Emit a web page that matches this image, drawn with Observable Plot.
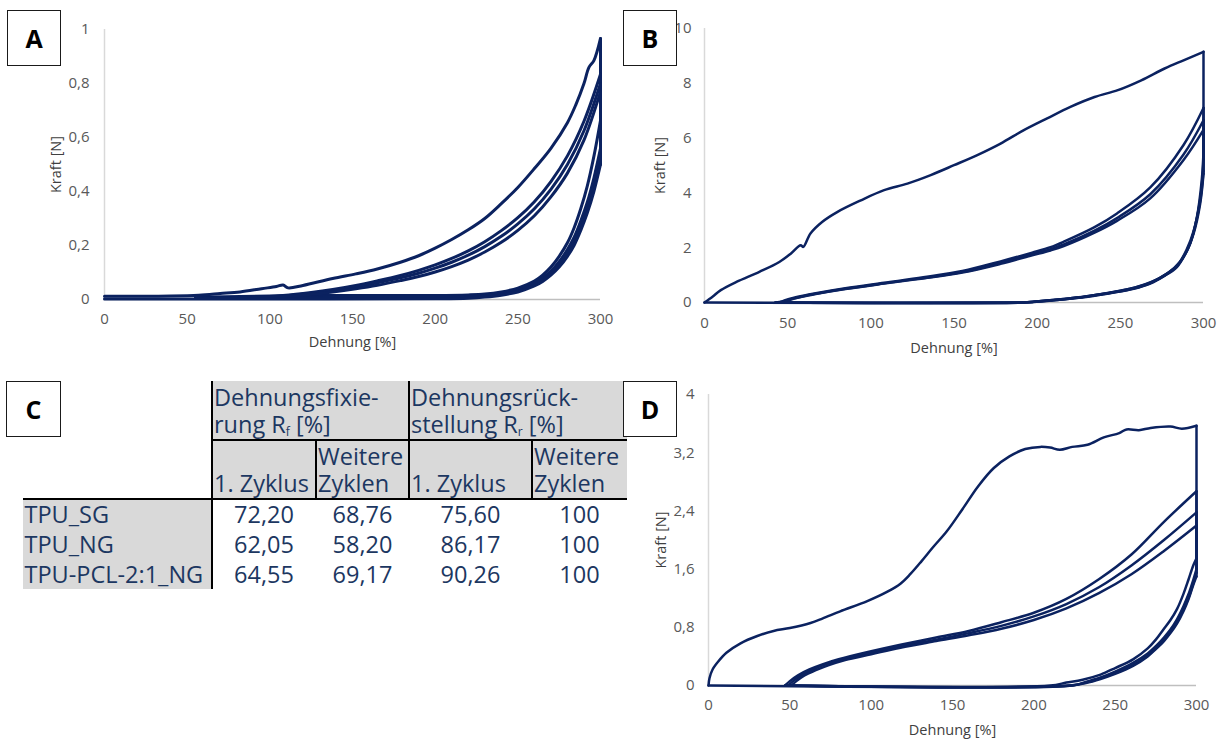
<!DOCTYPE html>
<html>
<head>
<meta charset="utf-8">
<script src="https://cdn.jsdelivr.net/npm/d3@7"></script>
<script src="https://cdn.jsdelivr.net/npm/@observablehq/plot@0.6"></script>
<style>
  html, body { margin:0; padding:0; background:#fff; }
  body { width:1222px; height:740px; position:relative; overflow:hidden; font-family:"Open Sans", sans-serif; }
  .wrap { position:absolute; }
  .box { position:absolute; box-sizing:border-box; border:1.6px solid #1a1a1a; background:#fff;
         display:flex; align-items:center; justify-content:center; font-weight:700; font-size:25px; color:#000; z-index:5; }
  .tc { position:absolute; box-sizing:border-box; color:#1c3761; font-size:23.5px; white-space:nowrap; }
  .tl { position:absolute; background:#000; z-index:2; }
  sub { font-size:12px; vertical-align:-3px; line-height:0; }
</style>
</head>
<body>
<div id="chartA" class="wrap" style="left:0;top:0"></div>
<div id="chartB" class="wrap" style="left:610px;top:0"></div>
<div id="table" class="wrap" style="left:0;top:0"></div>
<div id="chartD" class="wrap" style="left:610px;top:370px"></div>
<div class="box" style="left:7px;top:10px;width:54px;height:56px">A</div>
<div class="box" style="left:623px;top:10px;width:54px;height:56px">B</div>
<div class="box" style="left:6px;top:381px;width:55px;height:56px">C</div>
<div class="box" style="left:623px;top:381px;width:54px;height:56px">D</div>
<script>
// ---------- data: [Dehnung %, Kraft N] ----------
const xTicks = [0, 50, 100, 150, 200, 250, 300];

// Chart A
const aTicksY = [0, 0.2, 0.4, 0.6, 0.8, 1];
const aLoad1 = [[0,0.012],[20,0.012],[40,0.013],[57,0.016],[70,0.022],[82,0.028],[95,0.04],[104,0.048],[108,0.054],[111,0.043],[120,0.052],[138,0.078],[152,0.095],[165,0.113],[179,0.138],[190,0.162],[200,0.19],[210,0.222],[220,0.258],[230,0.3],[240,0.355],[250,0.415],[260,0.485],[270,0.56],[280,0.655],[285,0.72],[290,0.8],[293,0.86],[296,0.885],[300,0.967]];
const aLoad2 = [[55,0.004],[70,0.005],[85,0.007],[108,0.015],[125,0.026],[138,0.037],[152,0.052],[165,0.069],[179,0.089],[190,0.108],[200,0.128],[210,0.152],[220,0.18],[230,0.214],[240,0.255],[250,0.303],[260,0.362],[270,0.437],[280,0.532],[290,0.66],[300,0.834]];
const aLoad3 = [[58,0.004],[72,0.005],[88,0.007],[110,0.014],[125,0.023],[138,0.033],[152,0.047],[165,0.062],[179,0.08],[190,0.097],[200,0.116],[210,0.138],[220,0.164],[230,0.196],[240,0.234],[250,0.28],[260,0.336],[270,0.408],[280,0.5],[290,0.625],[300,0.8]];
const aLoad4 = [[60,0.004],[75,0.005],[90,0.007],[112,0.012],[125,0.019],[138,0.028],[152,0.04],[165,0.053],[179,0.07],[190,0.085],[200,0.102],[210,0.122],[220,0.146],[230,0.176],[240,0.212],[250,0.256],[260,0.31],[270,0.38],[280,0.468],[290,0.59],[300,0.77]];
const aUnload1 = [[300,0.663],[296,0.53],[292,0.42],[288,0.335],[284,0.265],[280,0.21],[275,0.16],[270,0.12],[265,0.09],[260,0.068],[250,0.042],[240,0.028],[230,0.02],[220,0.017],[200,0.015],[150,0.015],[100,0.013],[55,0.008]];
const aUnload2 = [[300,0.56],[296,0.45],[292,0.36],[288,0.29],[284,0.23],[280,0.185],[275,0.14],[270,0.105],[265,0.08],[260,0.06],[250,0.035],[240,0.022],[230,0.015],[220,0.012],[200,0.01],[150,0.009],[100,0.008],[58,0.005]];
const aUnload3 = [[300,0.53],[296,0.425],[292,0.34],[288,0.27],[284,0.215],[280,0.172],[275,0.13],[270,0.097],[265,0.073],[260,0.055],[250,0.031],[240,0.019],[230,0.012],[220,0.008],[200,0.006],[150,0.006],[100,0.005],[60,0.004]];
const aUnload4 = [[300,0.5],[296,0.4],[292,0.32],[288,0.255],[284,0.2],[280,0.16],[275,0.12],[270,0.09],[265,0.067],[260,0.05],[250,0.028],[240,0.016],[230,0.009],[220,0.005],[200,0.003],[100,0.002],[0,0.002]];

// Chart B
const bTicksY = [0, 2, 4, 6, 8, 10];
const bLoad1 = [[0,0],[5,0.22],[9.8,0.45],[19.2,0.75],[33,1.12],[45,1.48],[52,1.79],[57.8,2.09],[59.4,2.03],[63.7,2.52],[70.7,2.94],[80,3.31],[94,3.73],[108,4.1],[122,4.34],[136,4.65],[150,5.01],[164,5.38],[178,5.8],[192,6.29],[206,6.72],[220,7.14],[234.5,7.5],[248.5,7.75],[262.6,8.11],[276.6,8.54],[288,8.84],[300,9.15]];
const bLoad2 = [[42.6,0],[47,0.05],[52,0.15],[60,0.26],[66,0.33],[84.7,0.52],[108,0.72],[131.5,0.92],[155,1.15],[178,1.5],[197,1.82],[208,2.02],[216,2.22],[234.5,2.75],[248,3.25],[268,4.2],[288,5.75],[300,7.1]];
const bLoad3 = [[44,0],[48,0.05],[53,0.14],[60,0.24],[66,0.31],[84.7,0.5],[108,0.7],[131.5,0.89],[155,1.11],[178,1.44],[197,1.76],[208,1.95],[216,2.12],[234.5,2.62],[248,3.08],[268,3.95],[288,5.4],[300,6.65]];
const bLoad4 = [[45,0],[49,0.05],[54,0.14],[60,0.23],[66,0.3],[84.7,0.49],[108,0.69],[131.5,0.88],[155,1.09],[178,1.41],[197,1.72],[208,1.9],[216,2.06],[234.5,2.55],[248,2.98],[268,3.8],[288,5.2],[300,6.3]];
const bUnload1 = [[300,4.7],[298,3.6],[294,2.5],[290,1.9],[284,1.29],[276,0.95],[268,0.69],[258,0.5],[248,0.38],[238,0.28],[228,0.19],[218,0.13],[208,0.07],[198,0.02],[190,0],[42.6,0]];
const bUnload2 = [[300,5.2],[298.5,4.0],[295,2.8],[291,2.0],[285,1.4],[277,1.0],[268,0.72],[258,0.53],[248,0.4],[238,0.3],[228,0.21],[218,0.14],[208,0.08],[198,0.03],[192,0],[44,0]];
const bUnload3 = [[300,5.5],[299,4.5],[296,3.1],[292,2.15],[286,1.5],[278,1.05],[269,0.76],[259,0.55],[249,0.42],[239,0.31],[229,0.22],[219,0.15],[209,0.09],[199,0.035],[193,0],[45,0]];
const bUnload4 = [[300,4.8],[298,3.7],[294,2.6],[290,1.95],[284,1.33],[276,0.98],[268,0.71],[258,0.51],[248,0.39],[238,0.29],[228,0.2],[218,0.13],[208,0.075],[198,0.025],[191,0],[0,0]];

// Chart D
const dTicksY = [0, 0.8, 1.6, 2.4, 3.2, 4];
const dLoad1 = [[0,0],[0.6,0.1],[2.5,0.22],[6,0.33],[11,0.45],[19.7,0.58],[30,0.68],[40,0.75],[50,0.79],[62.7,0.86],[70,0.92],[81,1.02],[97.6,1.16],[110,1.29],[118,1.4],[124,1.53],[131,1.71],[138,1.9],[146.5,2.12],[156,2.42],[165.8,2.74],[175.4,2.99],[185,3.15],[194.7,3.25],[204,3.28],[210,3.27],[216,3.24],[223.6,3.28],[233,3.31],[243,3.41],[252.5,3.47],[257,3.52],[264.6,3.51],[271.8,3.54],[283.9,3.56],[291,3.53],[300,3.57]];
const dLoad2 = [[47,0],[50,0.06],[55,0.14],[62,0.22],[70,0.29],[80,0.36],[100,0.47],[118,0.56],[140,0.66],[160,0.75],[180,0.87],[200,1.0],[220,1.19],[240,1.46],[260,1.8],[280,2.25],[300,2.67]];
const dLoad3 = [[49,0],[52,0.06],[57,0.14],[64,0.22],[72,0.29],[82,0.36],[100,0.45],[118,0.54],[140,0.63],[160,0.72],[180,0.82],[200,0.95],[220,1.12],[240,1.35],[260,1.65],[280,2.0],[300,2.38]];
const dLoad4 = [[51,0],[54,0.06],[59,0.14],[66,0.21],[74,0.28],[84,0.35],[100,0.43],[118,0.52],[140,0.61],[160,0.69],[180,0.78],[200,0.9],[220,1.06],[240,1.27],[260,1.53],[280,1.85],[300,2.2]];
const dUnload1 = [[300,1.75],[298,1.65],[295,1.45],[292,1.26],[288,1.05],[284,0.9],[280,0.78],[275,0.63],[270,0.51],[261,0.36],[250,0.24],[241,0.15],[230,0.08],[220,0.04],[210,0],[47,0]];
const dUnload2 = [[300,1.55],[298,1.4],[295,1.2],[292,1.05],[288,0.88],[284,0.74],[280,0.63],[275,0.51],[270,0.41],[261,0.28],[250,0.17],[241,0.1],[232,0.04],[223,0],[49,0]];
const dUnload3 = [[300,1.6],[298,1.45],[295,1.25],[292,1.09],[288,0.91],[284,0.77],[280,0.66],[275,0.54],[270,0.44],[261,0.31],[250,0.19],[241,0.11],[232,0.05],[224,0],[51,0]];
const dUnload4 = [[300,1.5],[298,1.38],[295,1.18],[292,1.02],[288,0.85],[284,0.72],[280,0.61],[275,0.5],[270,0.4],[261,0.27],[250,0.16],[241,0.09],[232,0.035],[222,0],[0,0]];

// Table C
const colHeads = ["Dehnungsfixie-<br>rung R<sub>f</sub> [%]", "Dehnungsrück-<br>stellung R<sub>r</sub> [%]"];
const subHeads = ["<br>1. Zyklus", "Weitere<br>Zyklen", "<br>1. Zyklus", "Weitere<br>Zyklen"];
const rowLabels = ["TPU_SG", "TPU_NG", "TPU-PCL-2:1_NG"];
const rf1 = [72.20, 62.05, 64.55];
const rfN = [68.76, 58.20, 69.17];
const rr1 = [75.60, 86.17, 90.26];
const rrN = [100, 100, 100];

// ---------- helpers ----------
const navy = "#0b2260";
const fmt = d => String(d).replace(".", ",");
function series(name, pts) { return pts.map(([x, y]) => ({x, y, s: name})); }
function cycles(loads, unloads) {
  const rows = [];
  loads.forEach((ld, i) => {
    const ul = unloads[i];
    rows.push(...series("load" + i, ld));
    rows.push(...series("drop" + i, [ld[ld.length - 1], ul[0]]));
    rows.push(...series("unload" + i, ul));
  });
  return rows;
}

function chart(o) {
  return Plot.plot({
    width: o.w, height: o.h,
    marginLeft: o.ml, marginRight: o.mr, marginTop: o.mt, marginBottom: o.mb,
    style: {background: "transparent", fontFamily: "'Open Sans', sans-serif", color: "#595959", overflow: "visible"},
    x: {domain: [0, 300]},
    y: {domain: [0, o.yMax]},
    marks: [
      Plot.ruleX([0], {stroke: "#d9d9d9", strokeWidth: 1.5}),
      Plot.ruleY([0], {stroke: "#bfbfbf", strokeWidth: 1.5}),
      Plot.line(o.data, {x: "x", y: "y", z: "s", stroke: navy, strokeWidth: o.sw, curve: "catmull-rom", strokeLinejoin: "round"}),
      Plot.axisX({ticks: xTicks, tickSize: 0, tickPadding: o.xPad, label: null, fontSize: 15, fill: "#595959"}),
      Plot.axisY({ticks: o.yTicks, tickSize: 0, tickPadding: o.yPad, label: null, tickFormat: fmt, fontSize: 15, fill: "#595959"}),
      Plot.text(["Dehnung [%]"], {text: d => d, frameAnchor: "bottom", dy: o.xDy, lineAnchor: "middle", fontSize: 14.5, fill: "#404040"}),
      Plot.text(["Kraft [N]"], {text: d => d, frameAnchor: "left", dx: o.yDx, rotate: -90, lineAnchor: "middle", textAnchor: "middle", fontSize: 14.5, fill: "#404040"})
    ]
  });
}

document.getElementById("chartA").append(chart({
  data: cycles([aLoad1, aLoad2, aLoad3, aLoad4], [aUnload1, aUnload2, aUnload3, aUnload4]),
  yMax: 1, yTicks: aTicksY, w: 620, h: 360, ml: 104, mr: 20, mt: 29, mb: 61,
  sw: 3, xPad: 14, yPad: 15, xDy: 43, yDx: -48
}));
document.getElementById("chartB").append(chart({
  data: cycles([bLoad1, bLoad2, bLoad3, bLoad4], [bUnload1, bUnload2, bUnload3, bUnload4]),
  yMax: 10, yTicks: bTicksY, w: 612, h: 360, ml: 94, mr: 19, mt: 28, mb: 58,
  sw: 2.5, xPad: 15, yPad: 13, xDy: 45.5, yDx: -44.5
}));
document.getElementById("chartD").append(chart({
  data: cycles([dLoad1, dLoad2, dLoad3, dLoad4], [dUnload1, dUnload2, dUnload3, dUnload4]),
  yMax: 4, yTicks: dTicksY, w: 612, h: 370, ml: 98, mr: 26, mt: 24, mb: 55,
  sw: 2.5, xPad: 14, yPad: 14, xDy: 45, yDx: -47.5
}));

// ---------- table C ----------
const T = document.getElementById("table");
const colX = [23, 212, 316, 409, 532, 627];
const rowY = [381, 440, 499, 529, 559, 589];
const grey = "#d9d9d9";
const numFmt = v => Number.isInteger(v) ? String(v) : v.toFixed(2).replace(".", ",");
function cell(x, y, w, h, bg, html, style) {
  const d = document.createElement("div");
  d.className = "tc";
  Object.assign(d.style, {left: x + "px", top: y + "px", width: w + "px", height: h + "px", background: bg}, style || {});
  d.innerHTML = html;
  T.append(d);
}
function line(x, y, w, h) {
  const d = document.createElement("div");
  d.className = "tl";
  Object.assign(d.style, {left: x + "px", top: y + "px", width: w + "px", height: h + "px"});
  T.append(d);
}
const headStyle = {display: "flex", flexDirection: "column", justifyContent: "flex-end", lineHeight: "27.5px", paddingLeft: "2px", paddingBottom: "1.5px"};
cell(colX[1], rowY[0], colX[3] - colX[1], rowY[1] - rowY[0], grey, "<div>" + colHeads[0] + "</div>", headStyle);
cell(colX[3], rowY[0], colX[5] - colX[3], rowY[1] - rowY[0], grey, "<div>" + colHeads[1] + "</div>", headStyle);
subHeads.forEach((h, i) => cell(colX[i + 1], rowY[1], colX[i + 2] - colX[i + 1], rowY[2] - rowY[1], grey, "<div>" + h + "</div>", headStyle));
const cols = [rf1, rfN, rr1, rrN];
rowLabels.forEach((lab, r) => {
  const y = rowY[r + 2], h = rowY[r + 3] - rowY[r + 2];
  cell(colX[0], y, colX[1] - colX[0], h, grey, lab, {lineHeight: h + "px", paddingLeft: "1.5px"});
  cols.forEach((c, i) => cell(colX[i + 1], y, colX[i + 2] - colX[i + 1], h, "transparent", numFmt(c[r]), {lineHeight: h + "px", textAlign: "center"}));
});
// grid lines
line(colX[1] - 1, rowY[0], 2.2, rowY[5] - rowY[0]);
line(colX[2] - 1, rowY[1], 2.2, rowY[2] - rowY[1]);
line(colX[3] - 1, rowY[0], 2.2, rowY[2] - rowY[0]);
line(colX[4] - 1, rowY[1], 2.2, rowY[2] - rowY[1]);
line(colX[1], rowY[1] - 1, colX[5] - colX[1], 2.2);
line(colX[0], rowY[2] - 1, colX[5] - colX[0], 2.2);
</script>
</body>
</html>
